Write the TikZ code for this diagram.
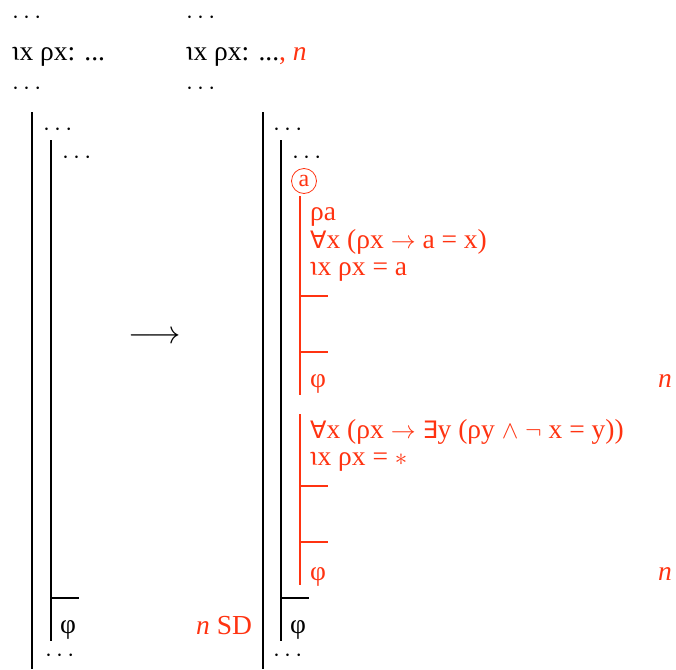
\documentclass[tikz,border=0pt]{standalone}
\usepackage{fontspec}
\setmainfont{Liberation Serif}
\newfontfamily\symfont{DejaVu Sans}
\usepackage{graphicx}
\definecolor{rd}{HTML}{FF3311}
\newcommand{\tio}{\rotatebox[origin=c]{180}{ι}}
\newcommand{\fa}{{\symfont\fontsize{24}{28}\selectfont ∀}}
\newcommand{\ex}{{\symfont\fontsize{24}{28}\selectfont ∃}}
\begin{document}
\begin{tikzpicture}[x=1pt,y=-1pt,
  font=\fontsize{27.5}{32}\selectfont,
  txt/.style={anchor=base west, inner sep=0pt},
  rtxt/.style={txt, text=rd},
  bar/.style={line width=2pt, black},
  rbar/.style={line width=2pt, rd}]
\useasboundingbox (0,0) rectangle (676,669);
% ---------- left column
\node[txt] (ld1) at (12,24) {$\cdots$};
\node[txt] (lh) at (12,60) {\tio x ρx: ...};
\node[txt] (ld2) at (12,94) {$\cdots$};
\coordinate (la1) at (32,112); \coordinate (la2) at (32,669);
\draw[bar] (la1) -- (la2);
\node[txt] (ld3) at (43,135) {$\cdots$};
\coordinate (lb1) at (51,140); \coordinate (lb2) at (51,641);
\draw[bar] (lb1) -- (lb2);
\node[txt] (ld4) at (62,163) {$\cdots$};
\coordinate (lt1) at (51,598); \coordinate (lt2) at (79,598);
\draw[bar] (lt1) -- (lt2);
\node[txt] (lphi) at (60,633) {φ};
\node[txt] (ld5) at (45,661) {$\cdots$};
% ---------- arrow and label
\node[inner sep=0pt] (arr) at (155,338) {\scalebox{1.3}{$\longrightarrow$}};
\node[rtxt] (nsd) at (196,634) {\textit{n} SD};
% ---------- right column
\node[txt] (rd1) at (186,24) {$\cdots$};
\node[txt] (rh) at (186,60) {\tio x ρx: ...\textcolor{rd}{, \textit{n}}};
\node[txt] (rd2) at (186,94) {$\cdots$};
\coordinate (ra1) at (263,112); \coordinate (ra2) at (263,669);
\draw[bar] (ra1) -- (ra2);
\node[txt] (rd3) at (273,135) {$\cdots$};
\coordinate (rb1) at (281,140); \coordinate (rb2) at (281,641);
\draw[bar] (rb1) -- (rb2);
\node[txt] (rd4) at (292,163) {$\cdots$};
\node[circle, draw=rd, text=rd, line width=0.8pt, inner sep=0pt, minimum size=25pt,
      font=\fontsize{24}{26}\selectfont] (ca) at (304,181) {a};
% first red subproof
\coordinate (rc1) at (300,196); \coordinate (rc2) at (300,395);
\draw[rbar] (rc1) -- (rc2);
\node[rtxt] (p1) at (310,220) {ρa};
\node[rtxt] (p2) at (310,248) {\fa x (ρx $\rightarrow$ a = x)};
\node[rtxt] (p3) at (310,275) {\tio x ρx = a};
\coordinate (t1a) at (300,296); \coordinate (t1b) at (328,296);
\draw[rbar] (t1a) -- (t1b);
\coordinate (t2a) at (300,352); \coordinate (t2b) at (328,352);
\draw[rbar] (t2a) -- (t2b);
\node[rtxt] (p4) at (310,387) {φ};
\node[rtxt] (n1) at (658,387) {\textit{n}};
% second red subproof
\coordinate (rd1a) at (300,414); \coordinate (rd1b) at (300,585);
\draw[rbar] (rd1a) -- (rd1b);
\node[rtxt] (q1) at (310,438) {\fa x (ρx $\rightarrow$ \ex y (ρy $\wedge$ $\neg$ x = y))};
\node[rtxt] (q2) at (310,465) {\tio x ρx = $\ast$};
\coordinate (t3a) at (300,486); \coordinate (t3b) at (328,486);
\draw[rbar] (t3a) -- (t3b);
\coordinate (t4a) at (300,542); \coordinate (t4b) at (328,542);
\draw[rbar] (t4a) -- (t4b);
\node[rtxt] (q3) at (310,580) {φ};
\node[rtxt] (n2) at (658,580) {\textit{n}};
% closing
\coordinate (rt1) at (281,598); \coordinate (rt2) at (309,598);
\draw[bar] (rt1) -- (rt2);
\node[txt] (rphi) at (290,633) {φ};
\node[txt] (rd5) at (273,661) {$\cdots$};
\end{tikzpicture}
\end{document}
